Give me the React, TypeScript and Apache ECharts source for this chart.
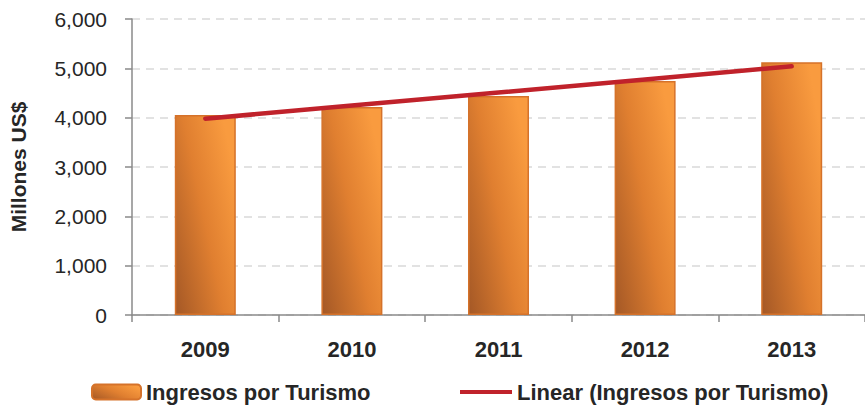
import React, { useEffect, useRef } from "react";
import * as echarts from "echarts";

const categories = ["2009", "2010", "2011", "2012", "2013"];
const ingresos = [4055, 4217, 4439, 4743, 5121];
const trend = [3980, 4245, 4510, 4775, 5040];
const barName = "Ingresos por Turismo";
const lineName = "Linear (Ingresos por Turismo)";

const FONT = "'Liberation Sans', Arial, sans-serif";

export default function App() {
  const ref = useRef<HTMLDivElement>(null);
  useEffect(() => {
    if (!ref.current) return;
    const chart = echarts.init(ref.current, undefined, { renderer: "svg" });
    const barGrad = new echarts.graphic.LinearGradient(0, 1, 1, 0.3, [
      { offset: 0, color: "#a45826" },
      { offset: 0.55, color: "#e07f30" },
      { offset: 1, color: "#f99b3f" },
    ]);
    chart.setOption({
      animation: false,
      textStyle: { fontFamily: FONT },
      grid: { left: 128, top: 19, width: 747, height: 296, containLabel: false },
      legend: [
        {
          data: [barName],
          left: 86,
          top: 376,
          itemWidth: 49,
          itemHeight: 15,
          itemGap: 5,
          textStyle: { fontSize: 22, fontWeight: "bold", color: "#262626", fontFamily: FONT },
        },
        {
          data: [{ name: lineName, icon: "rect" }],
          left: 455,
          top: 376,
          itemWidth: 52,
          itemHeight: 4,
          textStyle: { fontSize: 22, fontWeight: "bold", color: "#262626", fontFamily: FONT },
        },
      ],
      xAxis: {
        type: "category",
        data: categories,
        axisLine: { lineStyle: { color: "#8a8a8a", width: 1.5 } },
        axisTick: { show: true, length: 7, lineStyle: { color: "#8a8a8a", width: 1.5 } },
        axisLabel: { fontSize: 22, fontWeight: "bold", color: "#262626", margin: 23, fontFamily: FONT },
      },
      yAxis: {
        type: "value",
        min: 0,
        max: 6000,
        interval: 1000,
        name: "Millones US$",
        nameLocation: "middle",
        nameRotate: 90,
        nameGap: 103,
        nameTextStyle: { fontSize: 21, fontWeight: "bold", color: "#262626", fontFamily: FONT },
        axisLine: { show: true, lineStyle: { color: "#8a8a8a", width: 1.5 } },
        axisTick: { show: true, length: 7, lineStyle: { color: "#8a8a8a", width: 1.5 } },
        axisLabel: {
          fontSize: 21,
          color: "#262626",
          margin: 25,
          fontFamily: FONT,
          formatter: (v: number) => v.toLocaleString("en-US"),
        },
        splitLine: { lineStyle: { color: "#d9d9d9", type: [8, 6], width: 1.5 } },
      },
      series: [
        {
          name: barName,
          type: "bar",
          data: ingresos,
          barWidth: 61,
          itemStyle: { color: barGrad, borderColor: "#d5722a", borderWidth: 1.5 },
        },
        {
          name: lineName,
          type: "line",
          data: trend,
          symbol: "none",
          color: "#c0222b",
          lineStyle: { color: "#c0222b", width: 4.5, cap: "round" },
          z: 5,
        },
      ],
    });
    return () => chart.dispose();
  }, []);
  return (
    <div
      ref={ref}
      style={{ position: "fixed", left: 0, top: 0, width: 865, height: 407, background: "#fff" }}
    />
  );
}
